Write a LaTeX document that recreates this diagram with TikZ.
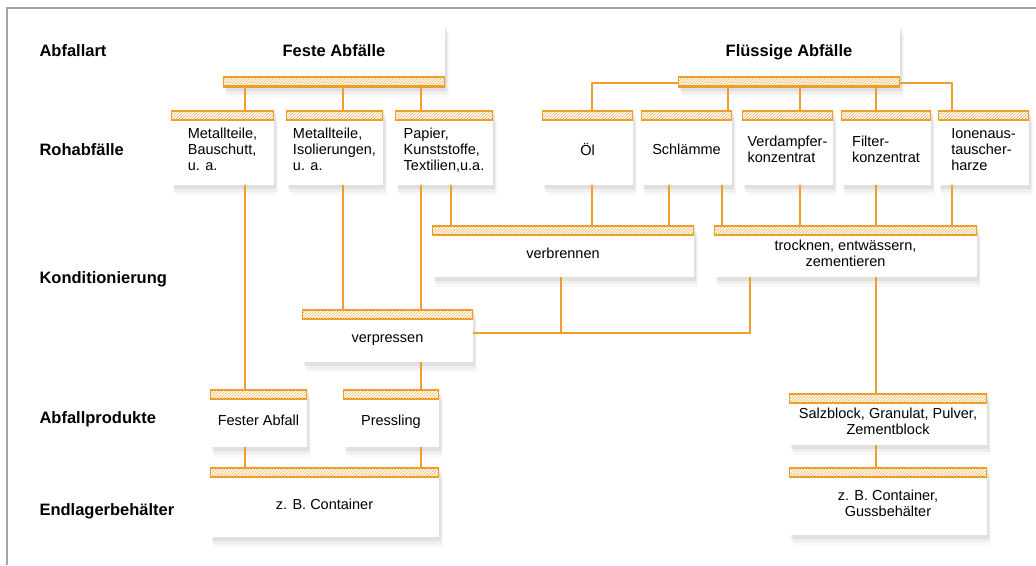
\documentclass[tikz,border=0pt]{standalone}
\usepackage{fontspec}
\setmainfont{Liberation Sans}
\usetikzlibrary{patterns,shadows}
\definecolor{linie}{RGB}{238,158,42}
\definecolor{schraffur}{RGB}{240,176,80}
\definecolor{rahmen}{RGB}{165,165,165}
\newcommand{\textklein}{\fontsize{14.5}{16}\selectfont}
\newcommand{\textfett}{\bfseries\fontsize{16.5}{19}\selectfont}
% Text unter dem Streifen etwas tiefer setzen
\newcommand{\tiefer}[2][c]{\raisebox{0pt}[\dimexpr\height+8pt\relax][\depth]{%
  \begin{tabular}{@{}#1@{}}#2\end{tabular}}}

\tikzset{
  kasten/.style={fill=white, inner sep=2pt, align=center, font=\textklein,
    drop shadow={shadow xshift=4pt, shadow yshift=-10pt, opacity=0.05},
    drop shadow={shadow xshift=3pt, shadow yshift=-7pt, opacity=0.08},
    drop shadow={shadow xshift=2pt, shadow yshift=-4pt, opacity=0.12}},
  streifenoben/.style={kasten, path picture={
    \fill[pattern=north east lines, pattern color=schraffur]
      (path picture bounding box.north west) rectangle ([yshift=-10pt]path picture bounding box.north east);
    \draw[linie, line width=1.2pt]
      (path picture bounding box.north west) rectangle ([yshift=-10pt]path picture bounding box.north east);
    \draw[linie, line width=3.6pt]
      (path picture bounding box.north west) -- (path picture bounding box.north east);
  }},
  streifenunten/.style={kasten, font=\textfett, text height=12pt, text depth=11pt, path picture={
    \fill[pattern=north east lines, pattern color=schraffur]
      ([yshift=10pt]path picture bounding box.south west) rectangle (path picture bounding box.south east);
    \draw[linie, line width=1.2pt]
      ([yshift=10pt]path picture bounding box.south west) rectangle (path picture bounding box.south east);
    \draw[linie, line width=3.6pt]
      (path picture bounding box.south west) -- (path picture bounding box.south east);
  }},
  verbindung/.style={draw=linie, line width=1.8pt},
  zeile/.style={anchor=base west, font=\textfett},
}

\begin{document}
\begin{tikzpicture}[x=1pt, y=-1pt]

\useasboundingbox[fill=white] (0,0) rectangle (1036,565);

% Rahmen
\draw[rahmen, line width=2pt] (7,565) -- (7,8) -- (1036,8);

% Zeilenbeschriftung
\node[zeile] (lart) at (36,56) {Abfallart};
\node[zeile] (lroh) at (36,155) {Rohabfälle};
\node[zeile] (lkond) at (36,283) {Konditionierung};
\node[zeile] (lprod) at (36,423) {Abfallprodukte};
\node[zeile] (lbeh) at (36,515) {Endlagerbehälter};

% Abfallart
\node[streifenunten, minimum width=222pt, minimum height=63pt] (feste) at (334,55.5) {Feste Abfälle};
\node[streifenunten, minimum width=222pt, minimum height=63pt] (fluessig) at (789,55.5) {Flüssige Abfälle};

% Rohabfälle
\node[streifenoben, minimum width=103pt, minimum height=75pt] (metall) at (222.5,147.5) {\tiefer[l]{Metallteile,\\Bauschutt,\\u. a.}};
\node[streifenoben, minimum width=97pt, minimum height=75pt] (isol) at (334.5,147.5) {\tiefer[l]{Metallteile,\\Isolierungen,\\u. a.}};
\node[streifenoben, minimum width=98pt, minimum height=75pt] (papier) at (444,147.5) {\tiefer[l]{Papier,\\Kunststoffe,\\Textilien,u.a.}};
\node[streifenoben, minimum width=91pt, minimum height=75pt] (oel) at (587.5,147.5) {\tiefer{Öl}};
\node[streifenoben, minimum width=91pt, minimum height=75pt] (schlamm) at (686.5,147.5) {\tiefer{Schlämme}};
\node[streifenoben, minimum width=91pt, minimum height=75pt] (verdampf) at (787.5,147.5) {\tiefer[l]{Verdampfer-\\konzentrat}};
\node[streifenoben, minimum width=90pt, minimum height=75pt] (filter) at (886,147.5) {\tiefer[l]{Filter-\\konzentrat}};
\node[streifenoben, minimum width=91pt, minimum height=75pt] (ionen) at (983.5,147.5) {\tiefer[l]{Ionenaus-\\tauscher-\\harze}};

% Konditionierung
\node[streifenoben, minimum width=262pt, minimum height=52pt] (verbrennen) at (563,251) {\tiefer{verbrennen}};
\node[streifenoben, minimum width=263pt, minimum height=52pt] (trocknen) at (845.5,251) {\tiefer{trocknen, entwässern,\\zementieren}};
\node[streifenoben, minimum width=171pt, minimum height=53pt] (verpressen) at (387.5,335.5) {\tiefer{verpressen}};

% Abfallprodukte
\node[streifenoben, minimum width=97pt, minimum height=58pt] (fester) at (258.5,418) {\tiefer{Fester Abfall}};
\node[streifenoben, minimum width=96pt, minimum height=58pt] (pressling) at (391,418) {\tiefer{Pressling}};
\node[streifenoben, minimum width=198pt, minimum height=52pt] (salz) at (888,419) {\tiefer{Salzblock, Granulat, Pulver,\\Zementblock}};

% Endlagerbehälter
\node[streifenoben, minimum width=229pt, minimum height=70pt] (contfest) at (324.5,502) {\tiefer{z. B. Container}};
\node[streifenoben, minimum width=198pt, minimum height=68pt] (contguss) at (888,501) {\tiefer{z. B. Container,\\Gussbehälter}};

% Feste Abfälle -> Rohabfälle
\draw[verbindung] (feste.south -| 245,0) -- (metall.north -| 245,0);
\draw[verbindung] (feste.south -| 343,0) -- (isol.north -| 343,0);
\draw[verbindung] (feste.south -| 421,0) -- (papier.north -| 421,0);

% Flüssige Abfälle -> Rohabfälle
\draw[verbindung] ([yshift=4pt]fluessig.south west) -| (oel.north -| 592,0);
\draw[verbindung] ([yshift=4pt]fluessig.south east) -| (ionen.north -| 952,0);
\draw[verbindung] (fluessig.south -| 728,0) -- (schlamm.north -| 728,0);
\draw[verbindung] (fluessig.south -| 800,0) -- (verdampf.north -| 800,0);
\draw[verbindung] (fluessig.south -| 876,0) -- (filter.north -| 876,0);

% Rohabfälle -> Konditionierung
\draw[verbindung] (metall.south -| 245,0) -- (fester.north -| 245,0);
\draw[verbindung] (isol.south -| 343,0) -- (verpressen.north -| 343,0);
\draw[verbindung] (papier.south -| 421,0) -- (verpressen.north -| 421,0);
\draw[verbindung] (papier.south -| 451,0) -- (verbrennen.north -| 451,0);
\draw[verbindung] (oel.south -| 592,0) -- (verbrennen.north -| 592,0);
\draw[verbindung] (schlamm.south -| 669,0) -- (verbrennen.north -| 669,0);
\draw[verbindung] (schlamm.south -| 722,0) -- (trocknen.north -| 722,0);
\draw[verbindung] (verdampf.south -| 800,0) -- (trocknen.north -| 800,0);
\draw[verbindung] (filter.south -| 876,0) -- (trocknen.north -| 876,0);
\draw[verbindung] (ionen.south -| 952,0) -- (trocknen.north -| 952,0);

% Rückstände zur Presse
\coordinate (presse) at ([yshift=2.5pt]verpressen.east);
\draw[verbindung] (presse) -| (trocknen.south -| 750,0);
\draw[verbindung] (verbrennen.south -| 561,0) -- (561,0 |- presse);

% Konditionierung -> Abfallprodukte -> Behälter
\draw[verbindung] (verpressen.south -| 421,0) -- (pressling.north -| 421,0);
\draw[verbindung] (trocknen.south -| 876,0) -- (salz.north -| 876,0);
\draw[verbindung] (fester.south -| 245,0) -- (contfest.north -| 245,0);
\draw[verbindung] (pressling.south -| 421,0) -- (contfest.north -| 421,0);
\draw[verbindung] (salz.south -| 876,0) -- (contguss.north -| 876,0);

\end{tikzpicture}
\end{document}
